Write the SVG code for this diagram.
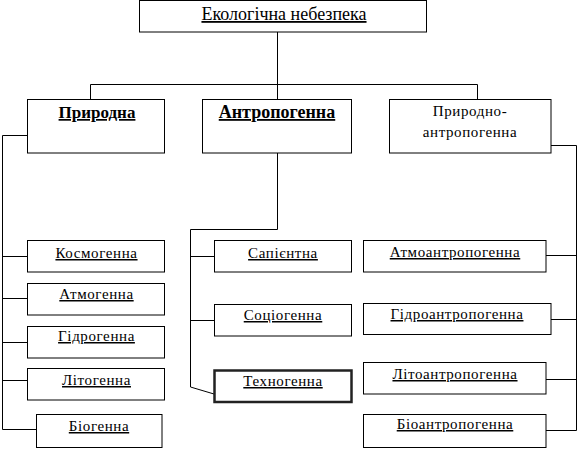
<svg xmlns="http://www.w3.org/2000/svg" width="578" height="450" viewBox="0 0 578 450">
<style>
rect{fill:#fff;stroke:#000;stroke-width:1}
rect.thick{stroke:#222;stroke-width:2.5}
text{font-family:'Liberation Serif','Times New Roman',serif;font-size:15px;fill:#000;text-anchor:middle;letter-spacing:0.6px}
text.u{text-decoration:underline}
text.b{font-weight:bold;font-size:17px;letter-spacing:0}
text.t{font-size:18px;letter-spacing:0}
#connectors path{fill:none;stroke:#000;stroke-width:1}
</style>
<g id="connectors">
<path d="M277.5,32 V99 M90.5,84.5 H477.5 M90.5,84.5 V99 M477.5,84.5 V99"/>
<path d="M27,135.5 H2.5 V429.5 H36 M2.5,256.5 H27 M2.5,298.5 H27 M2.5,342.5 H27 M2.5,380.5 H27"/>
<path d="M277.5,153 V229.5 H190.5 V387 L214,394 M190.5,256.5 H214 M190.5,320.5 H214"/>
<path d="M551,145.5 H576.5 V430.5 H546 M546,255.5 H576.5 M551,319.5 H576.5 M546,379.5 H576.5"/>
</g>
<g id="n-root"><rect x="139.5" y="0.5" width="287" height="31.5"/><text class="t u" x="284" y="20">Екологічна небезпека</text></g>
<g id="n-pryrodna"><rect x="27.5" y="99.5" width="137" height="53.5"/><text class="b u" x="97" y="118">Природна</text></g>
<g id="n-antropogenna"><rect x="202.5" y="99.5" width="149" height="53.5"/><text class="b u" x="277" y="118" style="font-size:18px">Антропогенна</text></g>
<g id="n-pryrodno-antropogenna"><rect x="389.5" y="99.5" width="161.5" height="53.5"/><text x="470" y="116">Природно-</text><text x="470" y="137">антропогенна</text></g>
<g id="n-kosmogenna"><rect x="27.5" y="240.5" width="137" height="31.5"/><text class="u" x="96.5" y="258">Космогенна</text></g>
<g id="n-atmogenna"><rect x="27.5" y="283.5" width="137" height="31.5"/><text class="u" x="96.5" y="299">Атмогенна</text></g>
<g id="n-gidrogenna"><rect x="27.5" y="326.5" width="137" height="31.5"/><text class="u" x="96.5" y="341">Гідрогенна</text></g>
<g id="n-litogenna"><rect x="27.5" y="368.5" width="137" height="31.5"/><text class="u" x="96.5" y="385">Літогенна</text></g>
<g id="n-biogenna"><rect x="36.5" y="414.5" width="125.5" height="33"/><text class="u" x="99" y="431">Біогенна</text></g>
<g id="n-sapientna"><rect x="214.5" y="240.5" width="137" height="31.5"/><text class="u" x="283" y="258">Сапієнтна</text></g>
<g id="n-sotsiogenna"><rect x="214.5" y="304.5" width="137" height="31.5"/><text class="u" x="283" y="320">Соціогенна</text></g>
<g id="n-tekhnogenna"><rect class="thick" x="214.5" y="370.5" width="137" height="31.5"/><text class="u" x="283" y="386">Техногенна</text></g>
<g id="n-atmoantropogenna"><rect x="363.5" y="240.5" width="182.5" height="31.5"/><text class="u" x="455" y="257">Атмоантропогенна</text></g>
<g id="n-gidroantropogenna"><rect x="363.5" y="303.5" width="187.5" height="31"/><text class="u" x="457" y="319">Гідроантропогенна</text></g>
<g id="n-litoantropogenna"><rect x="363.5" y="362.5" width="182.5" height="31.5"/><text class="u" x="455" y="379">Літоантропогенна</text></g>
<g id="n-bioantropogenna"><rect x="363.5" y="414.5" width="182.5" height="33"/><text class="u" x="455" y="429">Біоантропогенна</text></g>
</svg>
